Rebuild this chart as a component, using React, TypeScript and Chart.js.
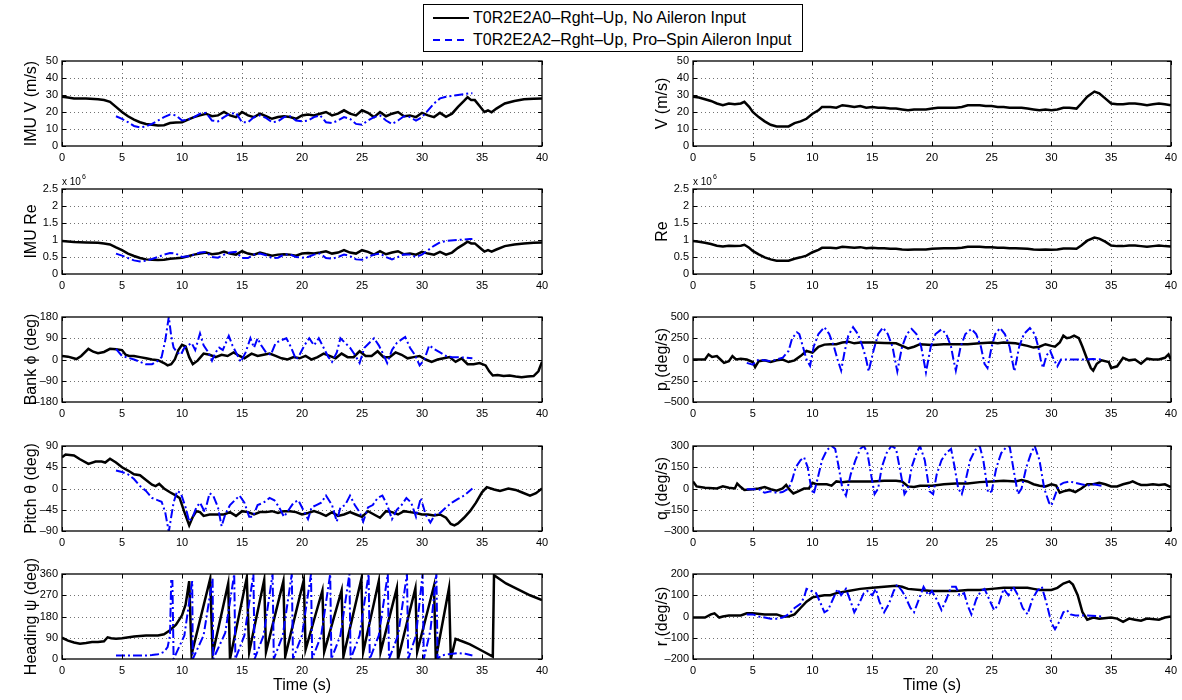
import React, { useEffect, useRef } from 'react';
import { Chart, registerables } from 'chart.js';
Chart.register(...registerables);

type Pt = [number, number];

// ---------- data (time s, value) ----------
const IMU_V_A0: Pt[] = [[0,29],[0.5,28.5],[1,28],[2,28],[3,27.5],[3.5,27],[4,26],[4.5,23],[5,20],[5.5,17.5],[6,15.5],[6.5,14],[7,13],[7.5,12.5],[8,12],[8.5,12.2],[9,13.5],[9.5,13.8],[10,14],[10.5,15.5],[11,17],[11.5,18],[12,19],[12.5,17.5],[13,18],[13.5,20],[14,18],[14.5,17],[15,20],[15.5,18],[16,17],[16.5,19],[17,17.5],[17.5,16],[18,17],[18.5,17.5],[19,17],[19.5,16],[20,18],[20.5,18.5],[21,18],[21.5,19],[22,20],[22.5,18],[23,19],[23.5,21],[24,19],[24.5,18],[25,21],[25.5,19.5],[26,17],[26.5,20],[27,17.5],[27.5,19],[28,20],[28.5,17.5],[29,18],[29.5,17],[30,19.5],[30.5,18],[31,17],[31.5,19.5],[32,17.2],[32.5,19],[33,23],[33.5,26.5],[33.8,28.7],[34.1,27],[34.4,27],[34.8,23.5],[35.2,20],[35.5,21],[35.8,19.8],[36.2,22],[36.9,25],[37.7,26.5],[38.5,27.5],[39.3,27.8],[40,28]];
const IMU_V_A2: Pt[] = [[4.5,17.5],[5,16],[5.5,14],[6,11.8],[6.5,11],[7,11.5],[7.5,13],[8,15],[8.5,17],[9,18.5],[9.5,18],[10,15],[10.5,15.5],[11,17],[11.5,19],[12,19.5],[12.5,15],[13,14.5],[13.5,17],[14,19],[14.5,19.5],[15,14],[15.5,14],[16,17],[16.5,18],[17,16.5],[17.5,14],[18,14.5],[18.5,17],[19,17.5],[19.5,15],[20,14.5],[20.5,15],[21,17],[21.5,18],[22,14],[22.5,13.5],[23,15],[23.5,17],[24,16],[24.5,13],[25,12.5],[25.5,15],[26,17],[26.5,18],[27,15],[27.5,13],[28,15],[28.5,17.5],[29,17],[29.5,15],[30,17],[30.5,21],[31,25],[31.5,28],[32,29],[33,30],[34,31],[34.2,31]];

const IMU_RE_A0: Pt[] = [[0,0.97],[1,0.94],[2,0.93],[3,0.92],[3.5,0.9],[4,0.87],[4.5,0.78],[5,0.7],[5.5,0.6],[6,0.53],[6.5,0.47],[7,0.43],[7.5,0.42],[8,0.41],[8.5,0.42],[9,0.45],[9.5,0.46],[10,0.48],[10.5,0.52],[11,0.57],[11.5,0.6],[12,0.63],[12.5,0.58],[13,0.6],[13.5,0.66],[14,0.6],[14.5,0.57],[15,0.67],[15.5,0.6],[16,0.57],[16.5,0.63],[17,0.58],[17.5,0.54],[18,0.57],[18.5,0.58],[19,0.57],[19.5,0.54],[20,0.6],[20.5,0.62],[21,0.6],[21.5,0.63],[22,0.67],[22.5,0.6],[23,0.63],[23.5,0.7],[24,0.63],[24.5,0.6],[25,0.7],[25.5,0.65],[26,0.57],[26.5,0.67],[27,0.58],[27.5,0.63],[28,0.67],[28.5,0.58],[29,0.6],[29.5,0.57],[30,0.65],[30.5,0.6],[31,0.57],[31.5,0.65],[32,0.57],[32.5,0.63],[33,0.77],[33.5,0.88],[33.8,0.95],[34.1,0.9],[34.4,0.9],[34.8,0.78],[35.2,0.66],[35.5,0.7],[35.8,0.66],[36.2,0.72],[36.9,0.82],[37.7,0.87],[38.5,0.9],[39.3,0.92],[40,0.93]];
const IMU_RE_A2: Pt[] = [[4.5,0.6],[5,0.54],[5.5,0.47],[6,0.4],[6.5,0.37],[7,0.39],[7.5,0.44],[8,0.5],[8.5,0.57],[9,0.62],[9.5,0.6],[10,0.5],[10.5,0.52],[11,0.57],[11.5,0.63],[12,0.65],[12.5,0.5],[13,0.48],[13.5,0.57],[14,0.63],[14.5,0.65],[15,0.47],[15.5,0.47],[16,0.57],[16.5,0.6],[17,0.55],[17.5,0.47],[18,0.48],[18.5,0.57],[19,0.58],[19.5,0.5],[20,0.48],[20.5,0.5],[21,0.57],[21.5,0.6],[22,0.47],[22.5,0.45],[23,0.5],[23.5,0.57],[24,0.53],[24.5,0.43],[25,0.42],[25.5,0.5],[26,0.57],[26.5,0.6],[27,0.5],[27.5,0.43],[28,0.5],[28.5,0.58],[29,0.57],[29.5,0.5],[30,0.57],[30.5,0.7],[31,0.83],[31.5,0.93],[32,0.97],[33,1.0],[34,1.03],[34.2,1.03]];

const BANK_A0: Pt[] = [[0,15],[0.5,12],[1.2,2],[1.6,15],[2.2,45],[2.6,33],[3,27],[3.5,32],[4,45],[4.5,43],[5,40],[5.3,20],[5.6,15],[6,15],[6.5,10],[7,5],[7.5,0],[8,-3],[8.5,-15],[8.8,-25],[9.1,-20],[9.4,0],[9.7,40],[10,62],[10.3,55],[10.6,10],[10.9,-20],[11.3,-5],[11.8,25],[12.3,20],[12.8,10],[13.3,20],[13.8,15],[14.3,30],[14.8,15],[15.2,5],[15.8,25],[16.3,15],[16.8,20],[17.3,25],[17.8,15],[18.3,5],[18.8,0],[19.3,10],[19.8,5],[20.3,15],[20.8,0],[21.3,10],[21.8,25],[22.3,15],[22.8,5],[23.3,25],[23.8,10],[24.3,10],[24.8,35],[25.3,15],[25.8,15],[26.3,35],[26.8,10],[27.3,10],[27.8,30],[28.3,20],[28.8,5],[29.3,10],[29.8,15],[30.3,0],[30.8,-10],[31.3,0],[31.8,5],[32.3,10],[32.8,-10],[33.3,5],[33.8,-20],[34.3,-20],[34.8,-15],[35.3,-25],[35.6,-50],[35.9,-68],[36.3,-66],[36.8,-70],[37.3,-68],[37.8,-72],[38.3,-75],[38.8,-72],[39.3,-70],[39.7,-50],[40,-10]];
const BANK_A2: Pt[] = [[4.5,45],[5,15],[6,0],[7,-20],[7.5,-20],[8,-5],[8.3,10],[8.6,80],[8.9,180],[9.1,100],[9.3,50],[9.6,30],[9.9,20],[10.2,50],[10.5,60],[10.8,70],[11.1,40],[11.5,110],[11.8,60],[12.2,30],[12.5,-5],[12.8,30],[13.1,50],[13.4,40],[13.9,100],[14.2,60],[14.5,30],[14.9,-10],[15.3,30],[15.7,90],[16,50],[16.3,90],[16.6,60],[17,30],[17.4,20],[17.8,70],[18.2,80],[18.7,90],[19.1,50],[19.5,0],[19.8,20],[20.2,60],[20.6,90],[21,60],[21.4,90],[21.8,50],[22.2,10],[22.5,-10],[22.9,30],[23.2,90],[23.6,70],[24,50],[24.4,20],[24.8,-15],[25.2,50],[25.6,70],[26,90],[26.4,60],[26.8,20],[27.1,-15],[27.5,40],[27.9,70],[28.3,85],[28.6,95],[29,50],[29.4,20],[29.8,-25],[30.2,0],[30.6,60],[31,45],[31.5,30],[32,15],[32.5,10],[33,10],[33.5,8],[34.2,5]];

const PITCH_A0: Pt[] = [[0,66],[0.3,72],[1,70],[1.5,62],[2.2,52],[2.8,57],[3.3,57],[3.6,55],[4,63],[4.5,55],[5,45],[5.5,38],[6,30],[6.5,28],[7,18],[7.5,8],[7.8,5],[8.1,10],[8.5,0],[9,-8],[9.5,-15],[9.8,-20],[10.2,-50],[10.6,-78],[10.9,-60],[11.2,-48],[11.5,-50],[11.8,-58],[12.3,-55],[13,-55],[13.5,-55],[14,-50],[14.5,-58],[15,-48],[15.5,-50],[16,-55],[16.5,-50],[17,-50],[17.5,-48],[18,-52],[18.5,-48],[19,-48],[19.5,-50],[20,-55],[20.5,-52],[21,-48],[21.5,-52],[22,-58],[22.5,-50],[23,-58],[23.5,-55],[24,-50],[24.5,-55],[25,-60],[25.5,-48],[26,-55],[26.5,-62],[27,-48],[27.5,-50],[28,-55],[28.5,-48],[29,-50],[29.5,-52],[30,-55],[30.5,-55],[31,-57],[31.5,-55],[32,-62],[32.4,-75],[32.7,-78],[33,-74],[33.5,-62],[34,-48],[34.5,-30],[35,-8],[35.4,3],[36,-2],[36.5,-5],[37.2,0],[37.8,-3],[38.3,-8],[39,-15],[39.5,-10],[40,0]];
const PITCH_A2: Pt[] = [[4.5,38],[5,35],[5.5,30],[6,20],[6.5,5],[7,-5],[7.5,-20],[8,-25],[8.3,-28],[8.6,-50],[8.9,-92],[9.1,-60],[9.3,-30],[9.6,-5],[9.9,-10],[10.3,-40],[10.6,-70],[10.9,-60],[11.2,-40],[11.5,-30],[11.9,-50],[12.3,-10],[12.6,-15],[13,-40],[13.3,-80],[13.6,-55],[14,-35],[14.4,-25],[14.8,-15],[15.2,-30],[15.6,-60],[15.9,-60],[16.3,-35],[16.8,-30],[17.3,-20],[17.7,-25],[18.1,-40],[18.5,-60],[18.9,-45],[19.3,-30],[19.7,-25],[20.1,-45],[20.5,-65],[20.8,-40],[21.2,-35],[21.6,-30],[22,-15],[22.5,-35],[22.9,-70],[23.2,-40],[23.6,-35],[24,-15],[24.4,-35],[24.8,-50],[25.1,-70],[25.5,-40],[25.9,-35],[26.3,-20],[26.7,-15],[27.1,-35],[27.5,-65],[27.9,-45],[28.3,-35],[28.7,-20],[29.1,-30],[29.5,-60],[29.9,-20],[30.3,-55],[30.7,-72],[31.1,-55],[31.5,-52],[32,-40],[32.5,-30],[33,-22],[33.5,-15],[34.2,0]];

const HEAD_A0: Pt[] = [[0,90],[0.5,78],[1,70],[1.5,65],[2,68],[2.5,72],[3,72],[3.5,75],[3.8,92],[4.1,88],[4.5,86],[5,88],[6,95],[7,100],[8,100],[8.5,105],[9,122],[9.5,145],[10,185],[10.3,230],[10.6,330],[10.8,20],[12.35,340],[12.55,20],[13.85,320],[14.0,0],[15.4,345],[15.6,30],[16.85,335],[17.0,30],[18.45,330],[18.6,10],[20.15,335],[20.3,40],[21.7,290],[21.85,30],[23.3,290],[23.45,10],[24.95,340],[25.1,30],[26.4,330],[26.55,30],[27.9,300],[28.0,0],[29.45,300],[29.6,30],[31.0,310],[31.15,0],[32.25,300],[32.4,0],[32.8,85],[33.5,72],[34,62],[35,35],[35.9,10],[36.0,355],[37,320],[38,295],[39,270],[40,250]];
const HEAD_A2: Pt[] = [[4.5,15],[5,15],[6,15],[7,15],[7.5,17],[8,20],[8.5,30],[8.8,50],[9.0,100],[9.1,330],[9.2,330],[9.3,0],[10.2,100],[10.85,330],[10.9,0],[11.8,100],[12.55,340],[12.6,0],[13.6,110],[14.35,360],[14.45,0],[15.2,100],[15.95,360],[16.05,0],[16.8,100],[17.55,360],[17.65,0],[18.4,100],[19.15,360],[19.25,0],[20.0,100],[20.75,360],[20.85,0],[21.6,100],[22.35,360],[22.45,0],[23.2,100],[23.95,360],[24.05,0],[24.8,100],[25.55,360],[25.65,0],[26.4,100],[27.15,360],[27.25,0],[28.0,100],[28.75,360],[28.85,0],[29.5,100],[30.05,360],[30.15,0],[30.7,120],[31.2,360],[31.3,0],[31.6,15],[32.2,20],[33,25],[33.6,22],[34.2,15]];

const V_A0: Pt[] = [[0,29],[0.5,28.5],[1,27.5],[1.5,26.5],[2,25],[2.5,24],[3,25],[3.5,24.5],[4,25],[4.3,26],[4.7,23],[5,20],[5.5,17],[6,14.5],[6.5,12.5],[7,11.5],[7.5,11.5],[8,11.5],[8.5,13.5],[9,14.5],[9.5,16],[10,19],[10.5,21],[10.8,23],[11.5,23],[12,22.5],[12.5,24],[13,23.5],[13.5,23],[14,23.5],[14.5,22.5],[15,23],[15.5,22.5],[16,22.5],[16.5,22],[17,22],[17.5,21.5],[18,21],[18.5,21.5],[19,21.5],[19.5,21.5],[20,22],[20.5,22.5],[21,22.5],[21.5,22.5],[22,22.5],[22.5,23],[23,24],[23.5,24],[24,24],[24.5,23.5],[25,23.5],[25.5,23],[26,23],[26.5,22.5],[27,22.5],[27.5,22.5],[28,22],[28.5,21.5],[29,21],[29.5,21.5],[30,21],[30.5,21.5],[31,22.5],[31.5,22.5],[32.1,22],[32.5,25],[33,29],[33.6,32],[34,31],[34.5,28],[35,25],[35.5,24.5],[36,24.5],[36.5,25],[37,25],[37.5,24.5],[38,24],[38.5,24.5],[39,25],[39.5,24.5],[40,24]];
const RE_A0: Pt[] = [[0,0.97],[0.5,0.95],[1,0.92],[1.5,0.88],[2,0.83],[2.5,0.81],[3,0.83],[3.5,0.82],[4,0.83],[4.3,0.86],[4.7,0.77],[5,0.68],[5.5,0.58],[6,0.49],[6.5,0.43],[7,0.39],[7.5,0.39],[8,0.39],[8.5,0.45],[9,0.49],[9.5,0.54],[10,0.64],[10.5,0.71],[10.8,0.77],[11.5,0.77],[12,0.76],[12.5,0.8],[13,0.79],[13.5,0.77],[14,0.79],[14.5,0.76],[15,0.77],[15.5,0.76],[16,0.76],[16.5,0.74],[17,0.74],[17.5,0.72],[18,0.71],[18.5,0.72],[19,0.72],[19.5,0.72],[20,0.74],[20.5,0.75],[21,0.76],[21.5,0.76],[22,0.76],[22.5,0.77],[23,0.8],[23.5,0.8],[24,0.8],[24.5,0.79],[25,0.79],[25.5,0.77],[26,0.77],[26.5,0.76],[27,0.76],[27.5,0.75],[28,0.74],[28.5,0.72],[29,0.71],[29.5,0.72],[30,0.71],[30.5,0.72],[31,0.75],[31.5,0.75],[32.1,0.74],[32.5,0.84],[33,0.98],[33.6,1.07],[34,1.04],[34.5,0.95],[35,0.84],[35.5,0.82],[36,0.82],[36.5,0.84],[37,0.84],[37.5,0.82],[38,0.8],[38.5,0.82],[39,0.84],[39.5,0.82],[40,0.81]];

const P_A0: Pt[] = [[0,0],[0.5,0],[1,0],[1.3,60],[1.6,30],[2,40],[2.3,0],[2.6,-40],[3,-20],[3.3,40],[3.6,0],[4,10],[4.5,0],[5,-30],[5.2,-90],[5.5,-20],[6,-10],[6.5,-30],[7,-10],[7.5,0],[8,-30],[8.5,-10],[9,40],[9.5,100],[10,80],[10.5,150],[11,175],[11.5,180],[12,180],[12.5,200],[13,210],[13.5,190],[14,200],[15,200],[16,195],[17,190],[17.5,160],[18,130],[18.5,150],[19,180],[20,170],[21,180],[22,180],[23,180],[24,190],[25,200],[25.5,190],[26,200],[27,190],[28,160],[28.5,140],[29,150],[29.5,180],[30,160],[30.3,150],[30.7,200],[31,280],[31.3,250],[31.6,260],[31.9,280],[32.3,250],[32.6,150],[33,0],[33.3,-100],[33.5,-130],[33.8,-50],[34.2,-10],[34.8,-30],[35,-100],[35.5,-80],[36,20],[36.5,-10],[37,0],[37.5,-50],[38,10],[38.5,0],[39,0],[39.5,20],[39.8,60],[40,0]];
const P_A2: Pt[] = [[4.5,-40],[5,-60],[5.5,0],[6,-10],[6.5,-20],[7,0],[7.5,20],[8,100],[8.3,250],[8.7,320],[8.9,300],[9.2,150],[9.5,0],[9.8,-75],[10.1,150],[10.5,300],[11,380],[11.4,300],[11.8,150],[12.1,0],[12.4,-130],[12.7,100],[13,280],[13.4,380],[13.8,300],[14.2,150],[14.5,0],[14.7,-140],[15.1,100],[15.5,300],[15.9,375],[16.3,300],[16.7,150],[16.9,0],[17.1,-140],[17.5,150],[17.9,300],[18.3,360],[18.7,300],[19.1,150],[19.3,0],[19.5,-150],[19.9,150],[20.3,300],[20.8,355],[21.2,300],[21.6,150],[21.8,0],[22,-130],[22.4,150],[22.8,300],[23.3,360],[23.7,300],[24.1,150],[24.4,-50],[24.65,-100],[25,150],[25.3,300],[25.7,370],[26.1,300],[26.5,150],[26.7,0],[26.9,-140],[27.3,150],[27.7,300],[28.2,370],[28.6,300],[28.9,150],[29.1,0],[29.3,-100],[29.6,50],[29.9,100],[30.2,0],[30.5,-80],[30.8,0],[31.5,0],[32.5,0],[33.5,5],[34.2,0]];

const Q_A0: Pt[] = [[0,50],[0.3,15],[1,5],[2,0],[2.5,15],[3,5],[3.5,0],[3.7,35],[4,10],[4.3,-10],[5,-5],[5.5,0],[6,10],[6.5,-5],[7,-15],[7.5,0],[7.8,25],[8.1,-10],[8.4,-35],[8.8,-20],[9.3,0],[9.7,0],[10,40],[10.3,30],[10.7,30],[11.2,30],[11.6,20],[12,50],[12.5,45],[13,50],[14,50],[15,50],[16,55],[17,55],[17.5,50],[18,15],[18.5,10],[19,20],[20,20],[21,30],[22,35],[23,35],[24,45],[25,50],[26,55],[27,50],[27.5,60],[28,50],[28.5,30],[29,20],[29.5,15],[30,30],[30.4,20],[30.7,-30],[31,-20],[31.5,-10],[32,-25],[32.5,0],[33,30],[33.5,30],[34,40],[34.5,30],[35,15],[35.5,15],[36,30],[36.5,40],[36.8,50],[37.2,35],[37.5,25],[38,25],[38.5,30],[39,25],[39.5,30],[40,10]];
const Q_A2: Pt[] = [[4.5,-5],[5,-5],[5.5,-5],[6,-30],[6.5,-20],[7,-30],[7.5,-25],[8,0],[8.3,60],[8.6,150],[9,200],[9.3,220],[9.6,150],[9.9,0],[10.1,-40],[10.4,60],[10.8,200],[11.2,270],[11.6,300],[11.9,280],[12.2,150],[12.5,0],[12.8,-50],[13.2,100],[13.6,200],[14,280],[14.3,300],[14.6,250],[14.9,100],[15.2,-40],[15.5,0],[15.8,150],[16.2,250],[16.6,300],[17,280],[17.4,100],[17.7,-40],[18,0],[18.3,150],[18.7,250],[19,300],[19.4,200],[19.8,-20],[20.1,-40],[20.4,100],[20.8,200],[21.2,250],[21.6,280],[21.9,150],[22.2,0],[22.5,-40],[22.8,50],[23.2,200],[23.6,270],[24,300],[24.3,200],[24.7,-30],[25,-20],[25.4,150],[25.8,250],[26.2,290],[26.5,300],[26.9,100],[27.2,-40],[27.5,0],[27.9,150],[28.3,250],[28.6,300],[29,200],[29.4,0],[29.8,-100],[30,-120],[30.3,-50],[30.6,20],[31,40],[31.5,50],[32,40],[32.5,30],[33,20],[33.5,30],[34.2,20]];

const R_A0: Pt[] = [[0,-5],[1,-5],[1.5,10],[1.8,15],[2.2,-5],[2.5,0],[3,5],[4,5],[4.5,15],[5,15],[6,10],[7,10],[7.5,0],[8,0],[8.5,10],[9,40],[9.5,70],[10,90],[10.5,95],[11,100],[11.5,100],[12,110],[13,120],[14,130],[15,135],[16,140],[17,145],[17.5,140],[18,130],[19,125],[20,120],[21,120],[22,120],[23,125],[24,125],[25,130],[26,135],[27,135],[28,135],[28.5,130],[29,125],[30,125],[30.5,135],[31,155],[31.5,165],[31.8,150],[32.2,100],[32.6,20],[33,-15],[33.5,-5],[34,-10],[35,-5],[35.5,-10],[36,-25],[36.5,-10],[37,-15],[37.5,-20],[38,-10],[39,-15],[39.5,-5],[40,0]];
const R_A2: Pt[] = [[4.5,10],[5,10],[5.5,0],[6,-5],[6.5,-10],[7,-10],[7.5,-5],[8,10],[8.5,40],[9,60],[9.3,90],[9.5,130],[9.9,120],[10.3,110],[10.7,60],[11,20],[11.3,30],[11.7,80],[12.1,130],[12.4,100],[12.8,130],[13.2,70],[13.5,20],[13.9,60],[14.3,110],[14.6,120],[15,100],[15.3,130],[15.6,70],[16,20],[16.4,60],[16.8,120],[17.1,150],[17.5,120],[17.8,90],[18.2,40],[18.5,20],[18.9,80],[19.3,140],[19.7,100],[20,120],[20.4,80],[20.8,30],[21.2,80],[21.6,140],[22,140],[22.3,100],[22.7,110],[23,50],[23.3,10],[23.7,80],[24.1,120],[24.4,130],[24.8,80],[25.2,30],[25.6,60],[26,130],[26.4,100],[26.8,140],[27.2,100],[27.6,40],[28,10],[28.4,80],[28.8,120],[29.2,140],[29.6,60],[30,-30],[30.3,-60],[30.7,-20],[31,20],[31.3,30],[31.6,10],[32,5],[33,5],[34.2,0]];

// ---------- tick / label text ----------
const X_MIN = 0, X_MAX = 40, X_STEP = 5;
const LEGEND_A0 = 'T0R2E2A0\u2013Rght\u2013Up, No Aileron Input';
const LEGEND_A2 = 'T0R2E2A2\u2013Rght\u2013Up, Pro\u2013Spin Aileron Input';
const X_TITLE = 'Time (s)';

type PanelCfg = {
  col: number; row: number; label: string; min: number; max: number; step: number;
  black: Pt[]; blue?: Pt[]; exponent?: boolean;
};

const PANELS: PanelCfg[] = [
  { col: 0, row: 0, label: 'IMU V (m/s)', min: 0, max: 50, step: 10, black: IMU_V_A0, blue: IMU_V_A2 },
  { col: 0, row: 1, label: 'IMU Re', min: 0, max: 2.5, step: 0.5, black: IMU_RE_A0, blue: IMU_RE_A2, exponent: true },
  { col: 0, row: 2, label: 'Bank \u03d5 (deg)', min: -180, max: 180, step: 90, black: BANK_A0, blue: BANK_A2 },
  { col: 0, row: 3, label: 'Pitch \u03b8 (deg)', min: -90, max: 90, step: 45, black: PITCH_A0, blue: PITCH_A2 },
  { col: 0, row: 4, label: 'Heading \u03c8 (deg)', min: 0, max: 360, step: 90, black: HEAD_A0, blue: HEAD_A2 },
  { col: 1, row: 0, label: 'V (m/s)', min: 0, max: 50, step: 10, black: V_A0 },
  { col: 1, row: 1, label: 'Re', min: 0, max: 2.5, step: 0.5, black: RE_A0, exponent: true },
  { col: 1, row: 2, label: 'p (deg/s)', min: -500, max: 500, step: 250, black: P_A0, blue: P_A2 },
  { col: 1, row: 3, label: 'q (deg/s)', min: -300, max: 300, step: 150, black: Q_A0, blue: Q_A2 },
  { col: 1, row: 4, label: 'r (deg/s)', min: -200, max: 200, step: 100, black: R_A0, blue: R_A2 },
];

// ---------- layout ----------
const FONT = "'Liberation Sans', Arial, Helvetica, sans-serif";
const ROW_TOP = [61, 189, 317, 446, 574];
const PLOT_H = 85;
const PLOT_W = 480;
const COL_LEFT = [62, 693];
const Y_AXIS_W = 62;
const PAD_TOP = 20;
const PAD_R = [12, 9];

const fmt = (v: any) => {
  const n = Math.round(Number(v) * 1000) / 1000;
  return n < 0 ? '\u2013' + Math.abs(n) : String(n);
};

const boxPlugin = {
  id: 'matlabBox',
  beforeDatasetsDraw(chart: any) {
    const { ctx, chartArea: a, scales } = chart;
    const x = scales.x, y = scales.y;
    ctx.save();
    ctx.strokeStyle = 'rgba(0,0,0,0.55)';
    ctx.lineWidth = 1;
    ctx.setLineDash([1, 3]);
    ctx.beginPath();
    for (const t of x.ticks) {
      const px = Math.round(x.getPixelForValue(t.value)) + 0.5;
      if (px <= a.left + 1 || px >= a.right - 1) continue;
      ctx.moveTo(px, a.top); ctx.lineTo(px, a.bottom);
    }
    for (const t of y.ticks) {
      const py = Math.round(y.getPixelForValue(t.value)) + 0.5;
      if (py <= a.top + 1 || py >= a.bottom - 1) continue;
      ctx.moveTo(a.left, py); ctx.lineTo(a.right, py);
    }
    ctx.stroke();
    ctx.restore();
  },
  afterDatasetsDraw(chart: any, _args: any, opts: any) {
    const { ctx, chartArea: a, scales } = chart;
    const x = scales.x, y = scales.y;
    ctx.save();
    ctx.setLineDash([]);
    ctx.strokeStyle = '#000';
    ctx.lineWidth = 1.3;
    ctx.strokeRect(a.left, a.top, a.right - a.left, a.bottom - a.top);
    const L = 4;
    ctx.beginPath();
    for (const t of x.ticks) {
      const px = Math.round(x.getPixelForValue(t.value)) + 0.5;
      ctx.moveTo(px, a.bottom); ctx.lineTo(px, a.bottom - L);
      ctx.moveTo(px, a.top); ctx.lineTo(px, a.top + L);
    }
    for (const t of y.ticks) {
      const py = Math.round(y.getPixelForValue(t.value)) + 0.5;
      ctx.moveTo(a.left, py); ctx.lineTo(a.left + L, py);
      ctx.moveTo(a.right, py); ctx.lineTo(a.right - L, py);
    }
    ctx.lineWidth = 1;
    ctx.stroke();
    if (opts && opts.exponent) {
      ctx.fillStyle = '#000';
      ctx.textBaseline = 'alphabetic';
      ctx.textAlign = 'left';
      ctx.font = `10px ${FONT}`;
      ctx.fillText('x 10', a.left, a.top - 4);
      const w = ctx.measureText('x 10').width;
      ctx.font = `7px ${FONT}`;
      ctx.fillText('6', a.left + w + 1, a.top - 10);
    }
    ctx.restore();
  },
};

function Panel({ cfg }: { cfg: PanelCfg }) {
  const ref = useRef<HTMLCanvasElement | null>(null);
  const bottom = cfg.row === 4;
  const xH = bottom ? 40 : 22;
  const w = Y_AXIS_W + PLOT_W + PAD_R[cfg.col];
  const h = PAD_TOP + PLOT_H + xH;
  const left = COL_LEFT[cfg.col] - Y_AXIS_W;
  const top = ROW_TOP[cfg.row] - PAD_TOP;

  useEffect(() => {
    const datasets: any[] = [];
    if (cfg.blue) {
      datasets.push({
        data: cfg.blue.map(([x, y]) => ({ x, y })),
        borderColor: '#0000ff', borderWidth: 2, borderDash: [9, 3, 2, 3],
        pointRadius: 0, fill: false, tension: 0, order: 0,
      });
    }
    datasets.push({
      data: cfg.black.map(([x, y]) => ({ x, y })),
      borderColor: '#000000', borderWidth: 2.5,
      pointRadius: 0, fill: false, tension: 0, order: 1,
    });
    const tickFont = { size: 11, family: FONT };
    const chart = new Chart(ref.current as HTMLCanvasElement, {
      type: 'line',
      data: { datasets },
      plugins: [boxPlugin as any],
      options: {
        animation: false,
        responsive: false,
        devicePixelRatio: 1,
        events: [],
        layout: { padding: { top: PAD_TOP, right: PAD_R[cfg.col], left: 0, bottom: 0 } },
        plugins: {
          legend: { display: false },
          tooltip: { enabled: false },
          matlabBox: { exponent: !!cfg.exponent },
        } as any,
        scales: {
          x: {
            type: 'linear', min: X_MIN, max: X_MAX,
            grid: { display: false, drawTicks: false },
            border: { display: false },
            ticks: { stepSize: X_STEP, autoSkip: false, maxRotation: 0, padding: 5, color: '#000', font: tickFont, callback: fmt },
            title: bottom
              ? { display: true, text: X_TITLE, color: '#000', font: { size: 16, family: FONT, lineHeight: 1.2 }, padding: { top: 0, bottom: 3.5 } }
              : { display: false },
            afterFit: (s: any) => { s.height = xH; },
          },
          y: {
            type: 'linear', min: cfg.min, max: cfg.max,
            grid: { display: false, drawTicks: false },
            border: { display: false },
            ticks: { stepSize: cfg.step, autoSkip: false, padding: 4, color: '#000', font: tickFont, callback: fmt },
            title: { display: true, text: cfg.label, color: '#000', font: { size: 16, family: FONT, lineHeight: 1.2 }, padding: { top: 22, bottom: 0 } },
            afterFit: (s: any) => { s.width = Y_AXIS_W; },
          },
        } as any,
      },
    } as any);
    return () => chart.destroy();
  }, []);

  return (
    <canvas
      ref={ref}
      width={w}
      height={h}
      style={{ position: 'absolute', left, top, width: w, height: h }}
    />
  );
}

function LegendRow({ top, text, dashed }: { top: number; text: string; dashed: boolean }) {
  return (
    <div style={{ position: 'absolute', left: 0, top, height: 22, width: '100%' }}>
      <svg width={40} height={22} style={{ position: 'absolute', left: 8, top: 0 }}>
        <line x1={1} y1={11} x2={37} y2={11}
          stroke={dashed ? '#0000ff' : '#000'} strokeWidth={2.2}
          strokeDasharray={dashed ? '7 5' : undefined} />
      </svg>
      <span style={{ position: 'absolute', left: 49, top: 0, lineHeight: '22px', fontSize: 16, fontFamily: FONT, color: '#000', whiteSpace: 'nowrap' }}>
        {text}
      </span>
    </div>
  );
}

export default function App() {
  return (
    <div style={{ position: 'fixed', left: 0, top: 0, width: 1182, height: 700, background: '#fff', overflow: 'hidden' }}>
      {PANELS.map((p, i) => <Panel key={i} cfg={p} />)}
      <div style={{ position: 'absolute', left: 423, top: 4, width: 378, height: 46, border: '1.3px solid #000', background: '#fff', zIndex: 5 }}>
        <LegendRow top={2} text={LEGEND_A0} dashed={false} />
        <LegendRow top={24} text={LEGEND_A2} dashed={true} />
      </div>
    </div>
  );
}
